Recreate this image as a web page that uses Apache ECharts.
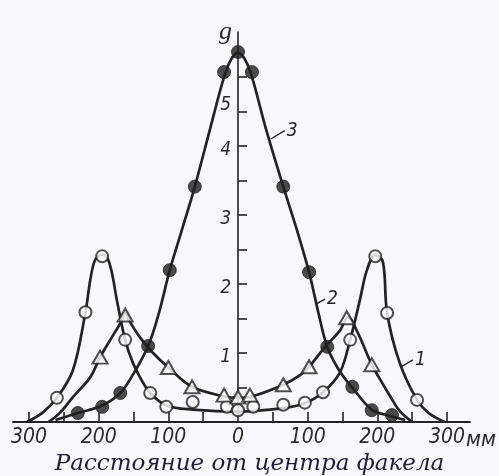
<!DOCTYPE html>
<html>
<head>
<meta charset="utf-8">
<script src="https://cdn.jsdelivr.net/npm/echarts@6/dist/echarts.min.js"></script>
<style>
  html, body { margin: 0; padding: 0; background: #f8f9fc; }
  #chart { width: 499px; height: 476px; }
</style>
</head>
<body>
<div id="chart"></div>
<script>
// Distance from the flame axis, mm (negative = left of centre)
const xTickValues = [-300, -250, -200, -150, -100, -50, 50, 100, 150, 200, 250, 300];
const xLabelValues = [-300, -200, -100, 0, 100, 200, 300];
const xUnit = 'мм';
// g scale: ticks every half unit, numbers on whole units
const yTickValues = [0.5, 1, 1.5, 2, 2.5, 3, 3.5, 4, 4.5, 5];
const yLabelValues = [1, 2, 3, 4, 5];

// Curve 1 (open circles): smooth trace and measured points
const c1X = [-303, -280, -260, -237, -219, -212, -205, -195, -188, -181, -174, -162, -151, -138, -126, -103, -65, 0, 65, 96, 122, 146, 161, 175, 185, 197, 208, 214, 232, 257, 275, 297];
const c1Y = [0, 0.14, 0.35, 0.75, 1.59, 2.06, 2.35, 2.42, 2.39, 2.16, 1.77, 1.19, 0.86, 0.6, 0.42, 0.24, 0.18, 0.15, 0.2, 0.27, 0.43, 0.71, 1.19, 1.77, 2.2, 2.42, 2.32, 1.58, 0.86, 0.32, 0.12, 0];
const m1X = [-260, -219, -195, -162, -126, -103, -65, -16, 0, 22, 65, 96, 122, 161, 197, 214, 257];
const m1Y = [0.35, 1.59, 2.4, 1.19, 0.42, 0.22, 0.29, 0.22, 0.17, 0.22, 0.25, 0.28, 0.43, 1.19, 2.4, 1.58, 0.32];

// Triangle curve
const c2X = [-272, -255, -237, -212, -198, -181, -169, -162, -155, -141, -122, -100, -66, -20, 0, 20, 65, 89, 102, 125, 146, 158, 172, 192, 205, 218, 232, 250];
const c2Y = [0, 0.14, 0.36, 0.65, 0.94, 1.23, 1.43, 1.58, 1.45, 1.23, 1.0, 0.79, 0.51, 0.37, 0.35, 0.37, 0.54, 0.68, 0.8, 1.09, 1.32, 1.52, 1.29, 0.83, 0.6, 0.38, 0.16, 0];
const m2X = [-198, -162, -100, -66, -20, 0, 17, 65, 102, 156, 192];
const m2Y = [0.94, 1.55, 0.79, 0.51, 0.39, 0.36, 0.39, 0.54, 0.8, 1.51, 0.83];

// Central-peak curve (filled circles)
const c3X = [-262, -230, -195, -169, -150, -129, -113, -98, -80, -62, -40, -20, -10, 0, 10, 20, 40, 65, 84, 102, 115, 128, 145, 164, 192, 221, 240];
const c3Y = [0.03, 0.13, 0.24, 0.42, 0.7, 1.1, 1.6, 2.2, 2.8, 3.41, 4.25, 5.0, 5.25, 5.35, 5.25, 5.0, 4.25, 3.41, 2.8, 2.17, 1.6, 1.09, 0.75, 0.5, 0.18, 0.08, 0.03];
const m3X = [-230, -195, -169, -129, -98, -62, -20, 0, 20, 65, 102, 128, 164, 192, 221];
const m3Y = [0.13, 0.22, 0.42, 1.1, 2.2, 3.41, 5.07, 5.36, 5.07, 3.41, 2.17, 1.09, 0.51, 0.17, 0.1];

// Curve numbers with their leader ticks (data coordinates)
const leaderNames = ['1', '2', '3'];
const leaderX = [[234, 251], [112, 125], [47, 67]];
const leaderY = [[0.80, 0.90], [1.71, 1.78], [4.10, 4.22]];

const INK = '#232323';
const NUM_FONT = 'Liberation Sans Narrow, DejaVu Sans Condensed, sans-serif';
const GRID_LEFT = 13;
const zip = (xs, ys) => xs.map((x, i) => [x, ys[i]]);

const curveLine = (xs, ys) => ({
  type: 'line', data: zip(xs, ys), smooth: 0.35, showSymbol: false,
  lineStyle: { color: INK, width: 2.7 }, z: 2, silent: true
});

const leaderSeries = leaderNames.map((name, i) => ({
  type: 'line',
  data: zip(leaderX[i], leaderY[i]),
  showSymbol: false,
  lineStyle: { color: INK, width: 1.4 },
  endLabel: {
    show: true, formatter: name, distance: 2,
    fontFamily: NUM_FONT, fontStyle: 'italic', fontSize: 19, color: INK
  },
  z: 4
}));

const chart = echarts.init(document.getElementById('chart'), null, { renderer: 'canvas' });

chart.setOption({
  backgroundColor: '#f8f9fc',
  animation: false,
  title: {
    text: 'Расстояние от центра факела',
    left: 'center', top: 448,
    textStyle: {
      fontFamily: 'DejaVu Serif, serif', fontStyle: 'italic',
      fontWeight: 'normal', fontSize: 23, color: '#1d1d38'
    }
  },
  grid: { left: GRID_LEFT, right: 29, top: 32, bottom: 54, outerBoundsMode: 'none' },
  xAxis: {
    type: 'value', min: -323, max: 333,
    splitLine: { show: false },
    axisLine: { lineStyle: { color: INK, width: 1.8 } },
    axisTick: {
      customValues: xTickValues, inside: true, length: 10,
      lineStyle: { color: INK, width: 1.6 }
    },
    axisLabel: {
      customValues: xLabelValues, margin: 5,
      formatter: v => String(Math.abs(v)),
      fontFamily: NUM_FONT, fontStyle: 'italic', fontSize: 21, color: '#2a2a2a'
    }
  },
  yAxis: {
    type: 'value', min: 0, max: 5.65,
    name: 'g', nameLocation: 'end', nameGap: 0,
    nameTextStyle: {
      fontFamily: 'Liberation Serif, serif', fontStyle: 'italic',
      fontSize: 26, color: '#2a2a2a', align: 'right',
      verticalAlign: 'middle', padding: [0, 6, 10, 0]
    },
    splitLine: { show: false },
    axisLine: { onZero: false, lineStyle: { color: INK, width: 1.6 } },
    axisTick: {
      customValues: yTickValues, inside: true, length: 9,
      lineStyle: { color: INK, width: 1.6 }
    },
    axisLabel: {
      customValues: yLabelValues, margin: 7,
      formatter: v => (v === 5 ? '{f|5}' : '{n|' + v + '}'),
      rich: {
        n: { fontFamily: NUM_FONT, fontStyle: 'italic', fontSize: 19, color: '#2a2a2a', padding: [8, 0, 0, 0] },
        f: { fontFamily: NUM_FONT, fontStyle: 'italic', fontSize: 19, color: '#2a2a2a', padding: [56, 0, 0, 0] }
      }
    }
  },
  series: [
    curveLine(c1X, c1Y),
    curveLine(c2X, c2Y),
    curveLine(c3X, c3Y),
    {
      type: 'scatter', data: zip(m1X, m1Y), symbol: 'circle', symbolSize: 12,
      itemStyle: { color: '#ffffff', borderColor: INK, borderWidth: 2 }, z: 5
    },
    {
      type: 'scatter', data: zip(m2X, m2Y), symbol: 'triangle', symbolSize: [15, 13],
      itemStyle: { color: '#ffffff', borderColor: INK, borderWidth: 2 }, z: 5
    },
    {
      type: 'scatter', data: zip(m3X, m3Y), symbol: 'circle', symbolSize: 13,
      itemStyle: { color: '#1e1e1e', borderColor: INK, borderWidth: 1 }, z: 5
    },
    ...leaderSeries
  ]
});

// Place the g axis (line, ticks and labels) at distance 0 on the x scale,
// and set the unit just after the last distance label
const zeroX = chart.convertToPixel({ xAxisIndex: 0 }, 0);
const lastLabel = chart.convertToPixel({ xAxisIndex: 0, yAxisIndex: 0 }, [xLabelValues[xLabelValues.length - 1], 0]);
chart.setOption({
  yAxis: { offset: -(zeroX - GRID_LEFT) },
  graphic: [{
    type: 'text',
    left: lastLabel[0] + 19, top: lastLabel[1] + 7,
    style: {
      text: xUnit, fill: '#2a2a2a',
      font: 'italic 22px ' + NUM_FONT
    }
  }]
});
</script>
</body>
</html>
